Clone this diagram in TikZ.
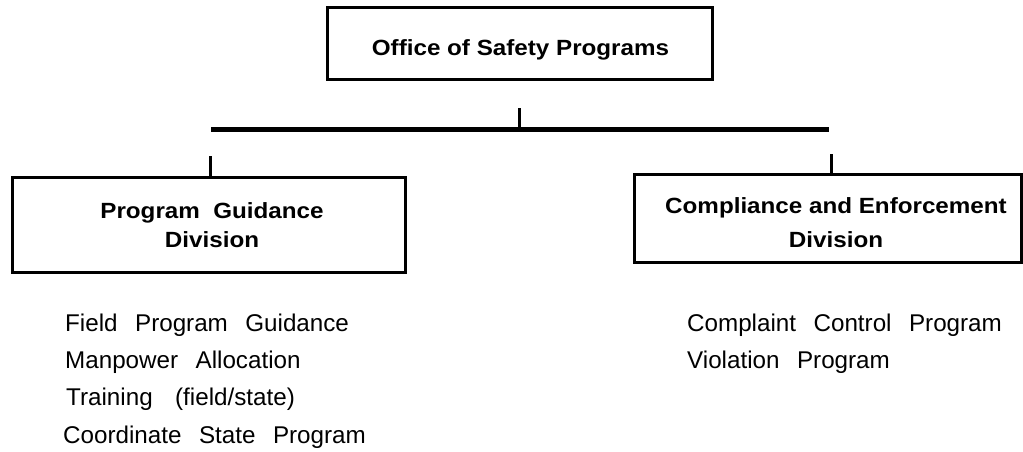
\documentclass[tikz,border=0pt]{standalone}
\usepackage{fontspec}
\setmainfont{Liberation Sans}
\newfontfamily\boxfont{Liberation Sans}[FakeStretch=1.1]
\newfontfamily\listfont{Liberation Sans}[WordSpace=2.6]
\begin{document}
\begin{tikzpicture}[x=1pt,y=-1pt,
  box/.style={draw, line width=3pt, inner sep=0pt},
  barline/.style={line width=5pt},
  tick/.style={line width=3pt},
  title/.style={font=\boxfont\bfseries\fontsize{22}{30}\selectfont, inner sep=0pt, anchor=base},
  item/.style={font=\listfont\fontsize{24.2}{28}\selectfont, inner sep=0pt, anchor=base west}]
\useasboundingbox (0,0) rectangle (1023,452);

% boxes
\node[box, minimum width=385pt, minimum height=72pt] (osp) at (519.5,44) {};
\node[title] (osp-t) at (520.5,56) {Office of Safety Programs};

\node[box, minimum width=393pt, minimum height=95pt] (pg) at (208.5,224.5) {};
\node[title] (pg-t1) at (212,218) {Program\ \ Guidance};
\node[title] (pg-t2) at (212,247) {Division};

\node[box, minimum width=387pt, minimum height=88pt] (ce) at (827.5,218) {};
\node[title] (ce-t1) at (836,213) {Compliance and Enforcement};
\node[title] (ce-t2) at (836,247) {Division};

% connectors
\coordinate (c-top) at (519,108);
\coordinate (c-bar) at (519,129);
\coordinate (bar-l) at (211,129);
\coordinate (bar-r) at (829,129);
\coordinate (l-top) at (210,156);
\coordinate (r-top) at (831,154);
\draw[tick] (c-top) -- (c-bar);
\draw[barline] (bar-l) -- (bar-r);
\draw[tick] (l-top) -- (l-top |- pg.north);
\draw[tick] (r-top) -- (r-top |- ce.north);

% lists
\node[item] (l1) at (65,331.5) {Field Program Guidance};
\node[item] (l2) at (65,368.5) {Manpower Allocation};
\node[item] (l3) at (66,405.5) {Training\hspace{5pt} (field/state)};
\node[item] (l4) at (63,443) {Coordinate State Program};

\node[item] (r1) at (687,331.5) {Complaint Control Program};
\node[item] (r2) at (687,368.5) {Violation Program};
\end{tikzpicture}
\end{document}
